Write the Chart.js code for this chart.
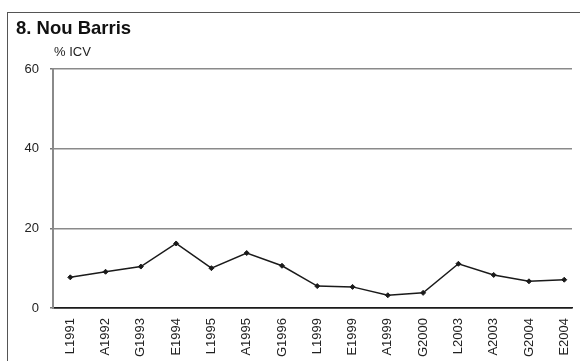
<!DOCTYPE html>
<html>
<head>
<meta charset="utf-8">
<script src="https://cdn.jsdelivr.net/npm/chart.js@4/dist/chart.umd.min.js"></script>
<style>
  html, body { margin: 0; padding: 0; background: #fff; overflow: hidden; }
  #wrap { position: relative; width: 580px; height: 361px; }
  #frame { position: absolute; left: 7px; top: 12px; width: 600px; height: 400px;
           border-left: 1.5px solid #555; border-top: 1.5px solid #555; }
  #title { position: absolute; left: 16px; top: 17px; font: bold 18.5px "Liberation Sans", Arial, sans-serif; color: #111; }
  #unit { position: absolute; left: 54px; top: 44px; font: 13px "Liberation Sans", Arial, sans-serif; color: #222; }
  canvas { position: absolute; left: 0; top: 0; }
</style>
</head>
<body>
<div id="wrap">
  <div id="frame"></div>
  <canvas id="lineChart" width="580" height="361"></canvas>
  <div id="title">8. Nou Barris</div>
  <div id="unit">% ICV</div>
</div>
<script>
// periodes de l'enquesta i valors del barri
const labels = ['L1991','A1992','G1993','E1994','L1995','A1995','G1996','L1999','E1999','A1999','G2000','L2003','A2003','G2004','E2004'];
const icv = [7.7, 9.1, 10.4, 16.2, 10.0, 13.8, 10.6, 5.5, 5.3, 3.2, 3.8, 11.1, 8.3, 6.7, 7.1];
const yTicks = [0, 20, 40, 60];

const font = { family: '"Liberation Sans", Arial, sans-serif', size: 13 };

new Chart(document.getElementById('lineChart'), {
  type: 'line',
  data: {
    datasets: [{
      data: icv.map((v, i) => ({ x: i, y: v })),
      borderColor: '#1a1a1a',
      backgroundColor: '#1a1a1a',
      borderWidth: 1.5,
      tension: 0,
      pointStyle: 'rectRot',
      pointRadius: 2.5,
      pointBorderWidth: 1
    }]
  },
  options: {
    responsive: false,
    animation: false,
    layout: { padding: { top: 69, right: 8, left: 0, bottom: 0 } },
    plugins: { legend: { display: false }, tooltip: { enabled: false } },
    scales: {
      x: {
        type: 'linear',
        min: -0.49,
        max: 14.22,
        afterBuildTicks: s => { s.ticks = labels.map((_, i) => ({ value: i })); },
        // keep the plot edge fixed, labels can overhang
        afterFit: s => { s.height = 53; s.paddingLeft = 0; s.paddingRight = 0; },
        grid: { display: false, drawTicks: false },
        border: { color: '#1a1a1a', width: 1.5 },
        ticks: {
          autoSkip: false,
          minRotation: 90,
          maxRotation: 90,
          padding: 10,
          color: '#222',
          font,
          callback: v => labels[v] ?? ''
        }
      },
      y: {
        min: 0,
        max: 60,
        afterBuildTicks: s => { s.ticks = yTicks.map(v => ({ value: v })); },
        afterFit: s => { s.width = 53; },
        grid: {
          color: c => c.tick && c.tick.value === 0 ? '#1a1a1a' : '#8a8a8a',
          lineWidth: 1.5,
          tickLength: 3,
          tickColor: '#777'
        },
        border: { color: '#8a8a8a', width: 2 },
        ticks: { padding: 11, color: '#222', font }
      }
    }
  }
});
</script>
</body>
</html>
